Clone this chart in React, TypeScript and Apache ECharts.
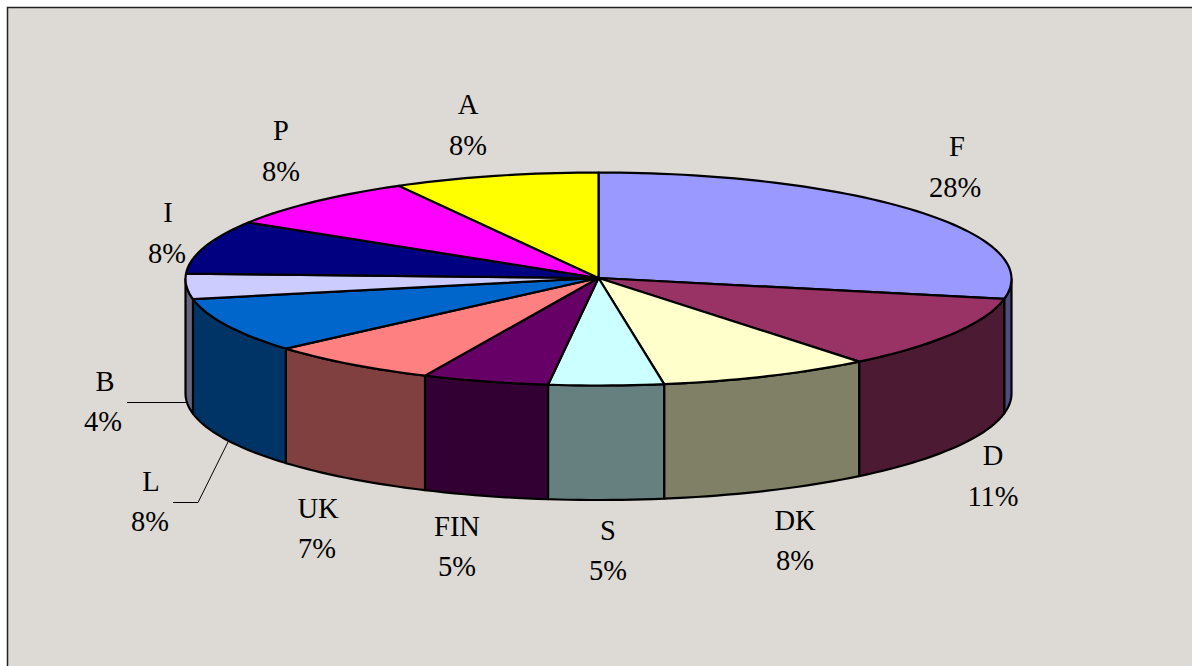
import React, { useEffect, useRef } from "react";
import * as echarts from "echarts";

const names = ["F", "D", "DK", "S", "FIN", "UK", "L", "B", "I", "P", "A"];
// percentages as printed on the labels
const printedShares = [28, 11, 8, 5, 5, 7, 8, 4, 8, 8, 8];
const shares = [28, 11.13, 8.33, 4.49, 4.95, 6.77, 8.3, 3.83, 8.1, 8.06, 8.04];
const topColors = ["#9999FF", "#993366", "#FFFFCC", "#CCFFFF", "#660066", "#FF8080", "#0066CC", "#CCCCFF", "#000080", "#FF00FF", "#FFFF00"];
const sideColors = ["#4D4D80", "#4D1A33", "#808066", "#668080", "#330033", "#804040", "#003366", "#666680", "#000040", "#800080", "#808000"];

// label anchor (name x, percent x, name y, percent y) per slice
const labelAnchors: [number, number, number, number][] = [
  [957, 955, 146.5, 187],
  [993, 993, 455, 496],
  [795, 795, 520, 560],
  [608, 608, 530, 570],
  [457, 457, 526, 566],
  [318, 317, 508, 548],
  [151, 150, 481, 521],
  [105, 103, 381, 421],
  [168, 167, 212, 253],
  [281, 281, 130, 171],
  [468, 468, 104, 145],
];

const CX = 598.5, CY = 279, APEX_Y = 278, RX = 413, RY = 106.5, DEPTH = 114.5;
const total = shares.reduce((a, b) => a + b, 0);
const starts: number[] = [];
shares.reduce((acc, v, i) => { starts[i] = acc; return acc + v; }, 0);
const toAngle = (s: number) => (s / total) * 360;

const pt = (deg: number, dy = 0): [number, number] => {
  const r = (deg * Math.PI) / 180;
  return [CX + RX * Math.sin(r), CY - RY * Math.cos(r) + dy];
};
const arc = (a: number, b: number, dy = 0) => {
  const out: [number, number][] = [];
  const n = Math.max(2, Math.ceil(Math.abs(b - a) / 1.5));
  for (let i = 0; i <= n; i++) out.push(pt(a + ((b - a) * i) / n, dy));
  return out;
};

const edge = { stroke: "#000", lineWidth: 2.2, lineJoin: "round" as const };

export default function App() {
  const ref = useRef<HTMLDivElement>(null);
  useEffect(() => {
    document.body.style.margin = "0";
    const chart = echarts.init(ref.current!, null, { renderer: "svg" });
    const texts: any[] = [];
    names.forEach((n, i) => {
      const [x1, x2, y1, y2] = labelAnchors[i];
      const font = { fontFamily: "Liberation Serif", fontSize: 28.5, fill: "#000", textAlign: "center", textVerticalAlign: "middle" };
      texts.push({ type: "text", z: 20, x: x1, y: y1, style: { ...font, text: n } });
      texts.push({ type: "text", z: 20, x: x2, y: y2, style: { ...font, text: `${printedShares[i]}%` } });
    });
    chart.setOption({
      animation: false,
      graphic: [
        { type: "rect", z: 0, shape: { x: 8, y: 8, width: 1184, height: 658 }, style: { fill: "#DDDAD5" } },
        { type: "polyline", z: 1, shape: { points: [[7.5, 666], [7.5, 7.5], [1192, 7.5]] }, style: { stroke: "#222", lineWidth: 1.5, fill: "none" } },
        { type: "polyline", z: 20, shape: { points: [[127, 402.5], [186, 402.5]] }, style: { stroke: "#000", lineWidth: 1, fill: "none" } },
        { type: "polyline", z: 20, shape: { points: [[173, 502.5], [198, 502.5], [228, 442]] }, style: { stroke: "#000", lineWidth: 1, fill: "none" } },
        ...texts,
      ],
      series: [
        {
          type: "custom",
          coordinateSystem: "none",
          silent: true,
          z: 5,
          data: shares,
          renderItem: (p: any) => {
            const i = p.dataIndex;
            const a = Math.max(toAngle(starts[i]), 90);
            const b = Math.min(toAngle(starts[i] + shares[i]), 270);
            if (b <= a) return { type: "group", children: [] };
            const pts = [...arc(a, b), ...arc(b, a, DEPTH)];
            return { type: "polygon", shape: { points: pts }, style: { fill: sideColors[i], ...edge } };
          },
        },
        {
          type: "custom",
          coordinateSystem: "none",
          silent: true,
          z: 6,
          data: shares,
          renderItem: (p: any) => {
            const i = p.dataIndex;
            const a = toAngle(starts[i]);
            const b = toAngle(starts[i] + shares[i]);
            const pts: [number, number][] = [[CX, APEX_Y], ...arc(a, b)];
            return { type: "polygon", shape: { points: pts }, style: { fill: topColors[i], ...edge } };
          },
        },
      ],
    });
    return () => chart.dispose();
  }, []);
  return <div ref={ref} style={{ position: "absolute", left: 0, top: 0, width: 1192, height: 666, background: "#fff" }} />;
}
